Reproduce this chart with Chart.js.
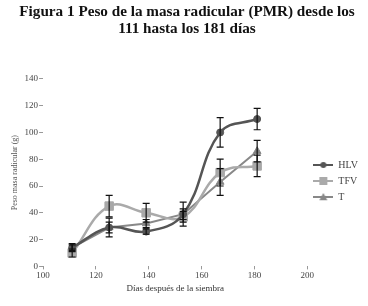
<!DOCTYPE html>
<html>
<head>
<meta charset="utf-8">
<script src="https://cdn.jsdelivr.net/npm/chart.js@4"></script>
<style>
  html, body { margin: 0; padding: 0; background: #fff; }
  #wrap { width: 368px; height: 306px; }
</style>
</head>
<body>
<div id="wrap"><canvas id="c" width="368" height="306"></canvas></div>
<script>
// days after sowing
const days = [111, 125, 139, 153, 167, 181]
const xTicks = [100, 120, 140, 160, 180, 200]

const hlv = [14, 29, 26, 39, 100, 110]
const tfv = [10, 45, 40, 37, 70, 75]
const tSeries = [14, 29, 32, 39, 63, 86]

const hlvErr = [2, 4, 2, 4, 11, 8]
const tfvErr = [3, 8, 7, 4, 10, 8]
const tErr = [3, 7, 3, 9, 10, 8]

const titleLines = ['Figura 1 Peso de la masa radicular (PMR) desde los', '111 hasta los 181 días']
const serif = "'Liberation Serif', 'DejaVu Serif', serif"

function pts(vals) {
  return vals.map((v, i) => ({ x: days[i], y: v }))
}

// small icon for the legend: line with marker in the middle
function legendIcon(color, style, size) {
  const cv = document.createElement('canvas')
  cv.width = 20; cv.height = 10
  const g = cv.getContext('2d')
  g.strokeStyle = color; g.lineWidth = 2
  g.beginPath(); g.moveTo(0, 5); g.lineTo(20, 5); g.stroke()
  g.fillStyle = color
  if (style === 'rect') {
    g.fillRect(10 - size, 5 - size, size * 2, size * 2)
  } else if (style === 'triangle') {
    g.beginPath(); g.moveTo(10, 5 - size); g.lineTo(10 + size, 5 + size * 0.8); g.lineTo(10 - size, 5 + size * 0.8); g.closePath(); g.fill()
  } else {
    g.beginPath(); g.arc(10, 5, size, 0, Math.PI * 2); g.fill()
  }
  return cv
}

const errorBars = {
  id: 'errorBars',
  afterDatasetsDraw(chart) {
    const ctx = chart.ctx
    const ys = chart.scales.y
    ctx.save()
    ctx.strokeStyle = '#111'
    ctx.lineWidth = 1.2
    chart.data.datasets.forEach((ds, di) => {
      const meta = chart.getDatasetMeta(di)
      meta.data.forEach((el, i) => {
        const v = ds.data[i].y, e = ds.errors[i]
        const top = ys.getPixelForValue(v + e), bot = ys.getPixelForValue(v - e)
        const x = el.x
        ctx.beginPath()
        ctx.moveTo(x, top); ctx.lineTo(x, bot)
        ctx.moveTo(x - 3.5, top); ctx.lineTo(x + 3.5, top)
        ctx.moveTo(x - 3.5, bot); ctx.lineTo(x + 3.5, bot)
        ctx.stroke()
      })
    })
    ctx.restore()
  }
}

const ctx = document.getElementById('c').getContext('2d')
new Chart(ctx, {
  type: 'line',
  data: {
    datasets: [
      { label: 'HLV', data: pts(hlv), errors: hlvErr, borderColor: '#555', backgroundColor: '#555',
        pointStyle: 'circle', pointRadius: 3.5, pointBorderWidth: 1, borderWidth: 2.5, tension: 0.4,
        icon: legendIcon('#555', 'circle', 3) },
      { label: 'TFV', data: pts(tfv), errors: tfvErr, borderColor: '#aaa', backgroundColor: '#a8a8a8',
        pointStyle: 'rect', pointRadius: 6, pointBorderWidth: 1, borderWidth: 2.5, tension: 0.4,
        icon: legendIcon('#aaa', 'rect', 4) },
      { label: 'T', data: pts(tSeries), errors: tErr, borderColor: '#888', backgroundColor: '#808080',
        pointStyle: 'triangle', pointRadius: 4.5, pointBorderWidth: 1, borderWidth: 2, tension: 0,
        icon: legendIcon('#888', 'triangle', 4) }
    ]
  },
  options: {
    responsive: false,
    animation: false,
    layout: { padding: { left: 6, right: 0, bottom: 8 } },
    scales: {
      x: {
        type: 'linear', min: 100, max: 200,
        afterBuildTicks: (s) => { s.ticks = xTicks.map(v => ({ value: v })) },
        grid: { drawOnChartArea: false, drawTicks: true, tickLength: 3, color: '#999' },
        border: { display: false },
        ticks: { color: '#444', font: { family: serif, size: 9 }, padding: 1, maxRotation: 0 },
        title: { display: true, text: 'Días después de la siembra', color: '#333', font: { family: serif, size: 9 }, padding: { top: 1 } }
      },
      y: {
        min: 0, max: 140,
        grid: { drawOnChartArea: false, drawTicks: true, tickLength: 4, color: '#999' },
        border: { display: false },
        ticks: { stepSize: 20, color: '#444', font: { family: serif, size: 9 }, padding: 1 },
        title: { display: true, text: 'Peso masa radicular (g)', color: '#555', font: { family: serif, size: 8 }, padding: { bottom: 4 } }
      }
    },
    plugins: {
      title: {
        display: true, text: titleLines, color: '#111',
        font: { family: serif, size: 15.2, weight: 'bold', lineHeight: 1.08 },
        padding: { top: 4, bottom: 42 }
      },
      legend: {
        position: 'right',
        title: { display: true, text: ' ', font: { size: 10 }, padding: { top: 0, bottom: 52 } },
        labels: {
          color: '#444', font: { family: serif, size: 10 }, boxWidth: 20, padding: 6,
          usePointStyle: true, pointStyleWidth: 20,
          generateLabels: (chart) => chart.data.datasets.map((ds, i) => ({
            text: ds.label, pointStyle: ds.icon, fontColor: '#444', datasetIndex: i,
            strokeStyle: ds.borderColor, fillStyle: ds.backgroundColor, lineWidth: 0
          }))
        }
      },
      tooltip: { enabled: false }
    }
  },
  plugins: [errorBars]
})
</script>
</body>
</html>
